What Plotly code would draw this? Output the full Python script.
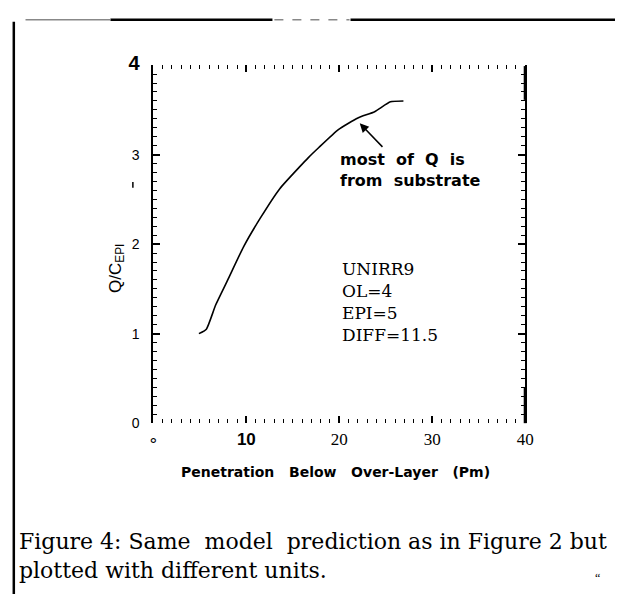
import plotly.graph_objects as go

# ---- data ----
penetration = [4.9, 5.7, 6.7, 8.0, 9.7, 11.5, 13.6, 15.7, 16.7, 17.8, 19.9, 22.0, 23.8, 25.5, 26.9]
q_ratio = [1.00, 1.05, 1.32, 1.60, 1.97, 2.29, 2.62, 2.86, 2.97, 3.08, 3.28, 3.41, 3.48, 3.59, 3.60]

x_tickvals = [0, 10, 20, 30, 40]
x_ticktext = ["∘", "<span style=\"font-family:Liberation Sans\"><b>10</b></span>", "20", "30", "40"]
y_tickvals = [0, 1, 2, 3, 4]
y_ticktext = ["0", "1", "2", "3", "<b><span style=\"font-size:20px\">4</span></b>"]

NB = "\u00a0"
x_title = "Penetration" + NB * 3 + "Below" + NB * 3 + "Over-Layer" + NB * 3 + "(Pm)"
y_title = "Q/C<sub>EPI</sub>"
note_text = "most" + NB * 2 + "of" + NB * 2 + "Q" + NB * 2 + "is<br>from" + NB * 2 + "substrate"
run_text = "UNIRR9<br>OL=4<br>EPI=5<br>DIFF=11.5"
caption1 = "Figure 4: Same" + NB * 2 + "model" + NB * 2 + "prediction as in Figure 2 but"
caption2 = "plotted with different units."

W, H = 624, 602
def px(x):
    return x / W
def py(y):
    return 1 - y / H

fig = go.Figure()
fig.add_trace(go.Scatter(x=penetration, y=q_ratio, mode="lines",
                         line=dict(color="black", width=1.6, shape="spline", smoothing=0.5),
                         showlegend=False, hoverinfo="skip"))

fig.update_layout(
    width=W, height=H, margin=dict(l=0, r=0, t=0, b=0),
    paper_bgcolor="white", plot_bgcolor="white",
    xaxis=dict(domain=[px(151), px(532)], range=[0, 40], showgrid=False, zeroline=False,
               showline=False, mirror="ticks", ticks="inside", ticklen=7, tickwidth=1.5,
               tickcolor="black", tickvals=x_tickvals, ticktext=x_ticktext,
               tickfont=dict(family="Liberation Serif", size=17, color="black"),
               minor=dict(dtick=1, ticks="inside", ticklen=4, tickwidth=1.2, tickcolor="black"),
               ticklabelstandoff=4),
    yaxis=dict(domain=[py(425), py(54)], range=[0, 4], showgrid=False, zeroline=False,
               showline=True, linecolor="black", linewidth=2, mirror="ticks",
               ticks="inside", ticklen=7, tickwidth=1.5, tickcolor="black",
               tickvals=y_tickvals, ticktext=y_ticktext,
               tickfont=dict(family="Liberation Sans", size=14, color="black"),
               minor=dict(dtick=0.1, ticks="inside", ticklen=4, tickwidth=1.2, tickcolor="black"),
               ticklabelstandoff=9),
)

annotations = [
    dict(xref="paper", yref="paper", x=px(338), y=py(476), text="<b>" + x_title + "</b>",
         xanchor="center", yanchor="middle", showarrow=False,
         font=dict(family="DejaVu Sans", size=14, color="black")),
    dict(xref="paper", yref="paper", x=px(113), y=py(265), text=y_title, textangle=-90,
         xanchor="center", yanchor="middle", showarrow=False,
         font=dict(family="Liberation Sans", size=17, color="black")),
    dict(xref="paper", yref="paper", x=px(340), y=py(163), text="<b>" + note_text + "</b>",
         xanchor="left", yanchor="middle", align="left", showarrow=False,
         font=dict(family="DejaVu Sans", size=16, color="black")),
    dict(x=22.2, y=3.35, xref="x", yref="y", ax=24.8, ay=3.07, axref="x", ayref="y",
         text="", showarrow=True, arrowhead=2, arrowsize=1.2, arrowwidth=1.5, arrowcolor="black"),
    dict(xref="paper", yref="paper", x=px(342), y=py(299), text=run_text,
         xanchor="left", yanchor="middle", align="left", showarrow=False,
         font=dict(family="DejaVu Serif", size=17, color="black")),
    dict(xref="paper", yref="paper", x=px(11), y=py(548), text=caption1,
         xanchor="left", yanchor="middle", align="left", showarrow=False,
         font=dict(family="DejaVu Serif", size=22, color="black")),
    dict(xref="paper", yref="paper", x=px(11), y=py(578), text=caption2,
         xanchor="left", yanchor="middle", align="left", showarrow=False,
         font=dict(family="DejaVu Serif", size=22, color="black")),
    dict(xref="paper", yref="paper", x=px(606), y=py(585), text="\u201c",
         xanchor="center", yanchor="middle", showarrow=False,
         font=dict(family="Liberation Serif", size=12, color="black")),
]
fig.update_layout(annotations=annotations)

shapes = [
    dict(type="line", xref="paper", yref="paper", x0=px(8), x1=px(8), y0=py(9), y1=py(602),
         line=dict(color="black", width=2.5)),
    dict(type="line", xref="paper", yref="paper", x0=px(107), x1=px(273), y0=py(7), y1=py(7),
         line=dict(color="black", width=2.5)),
    dict(type="line", xref="paper", yref="paper", x0=px(353), x1=px(624), y0=py(7), y1=py(7),
         line=dict(color="black", width=2.5)),
    dict(type="line", xref="paper", yref="paper", x0=px(20), x1=px(107), y0=py(7), y1=py(7),
         line=dict(color="#888", width=1.5)),
    dict(type="line", xref="paper", yref="paper", x0=px(275), x1=px(352), y0=py(7), y1=py(7),
         line=dict(color="#888", width=1.5, dash="dash")),
    dict(type="line", xref="paper", yref="paper", x0=px(130), x1=px(130), y0=py(175), y1=py(181),
         line=dict(color="black", width=1.5)),
    # heavier segments on the right frame edge, as in the scan
    dict(type="line", xref="paper", yref="paper", x0=px(532), x1=px(532), y0=py(55), y1=py(90),
         line=dict(color="black", width=3)),
    dict(type="line", xref="paper", yref="paper", x0=px(532), x1=px(532), y0=py(388), y1=py(425),
         line=dict(color="black", width=3)),
]
fig.update_layout(shapes=shapes)

fig.write_html("out.html")
